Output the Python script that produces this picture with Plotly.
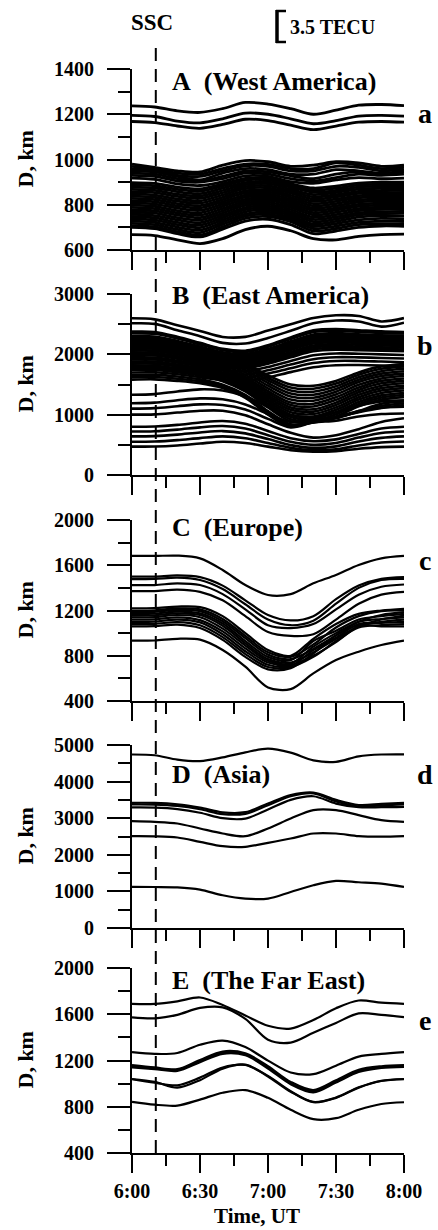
import plotly.graph_objects as go

# ---------------- data ----------------
MINUTES = [0, 10, 20, 30, 40, 50, 60, 70, 80, 90, 100, 110, 120]   # minutes after 6:00 UT
X_TICKS = [0, 30, 60, 90, 120]
X_TICK_TEXT = ["6:00", "6:30", "7:00", "7:30", "8:00"]
SSC_MINUTE = 10.5

A_LINES = [
    [1237, 1232, 1215, 1208, 1225, 1252, 1245, 1225, 1200, 1218, 1240, 1243, 1238],
    [1195, 1190, 1170, 1162, 1180, 1205, 1200, 1180, 1158, 1172, 1192, 1195, 1192],
    [1168, 1163, 1148, 1138, 1155, 1178, 1172, 1152, 1132, 1148, 1165, 1168, 1165],
    [980, 965, 950, 945, 975, 995, 990, 970, 975, 990, 985, 970, 975],
    [970, 958, 940, 935, 960, 980, 978, 960, 960, 985, 975, 960, 968],
    [960, 950, 930, 925, 950, 972, 970, 950, 950, 970, 965, 950, 958],
    [950, 945, 925, 910, 940, 960, 955, 935, 935, 955, 950, 940, 950],
    [940, 935, 915, 905, 925, 948, 945, 928, 915, 935, 945, 935, 945],
    [930, 925, 905, 900, 915, 940, 935, 915, 905, 920, 935, 930, 935],
    [918, 912, 892, 885, 902, 928, 925, 902, 895, 910, 920, 915, 918],
    [898, 894, 878, 870, 892, 916, 918, 893, 874, 882, 896, 900, 900],
    [888, 884, 868, 860, 883, 908, 910, 886, 865, 873, 887, 891, 891],
    [878, 874, 858, 849, 873, 898, 901, 878, 855, 863, 878, 882, 881],
    [868, 864, 847, 839, 863, 889, 893, 869, 845, 854, 869, 873, 872],
    [858, 854, 837, 828, 853, 880, 884, 860, 835, 844, 859, 863, 863],
    [848, 843, 826, 817, 843, 871, 875, 851, 825, 835, 850, 854, 853],
    [838, 833, 816, 807, 833, 861, 866, 842, 815, 825, 840, 845, 844],
    [828, 823, 805, 796, 823, 852, 857, 833, 805, 815, 831, 836, 835],
    [818, 813, 795, 786, 813, 843, 848, 824, 795, 805, 821, 826, 826],
    [808, 803, 785, 775, 803, 834, 839, 815, 785, 795, 812, 817, 817],
    [798, 793, 774, 764, 793, 824, 830, 806, 775, 785, 802, 807, 807],
    [788, 783, 764, 754, 783, 815, 821, 797, 765, 776, 793, 798, 798],
    [778, 773, 754, 743, 773, 806, 812, 788, 755, 766, 783, 789, 789],
    [768, 763, 743, 732, 763, 797, 803, 779, 745, 756, 774, 780, 780],
    [758, 752, 733, 721, 753, 787, 794, 770, 735, 746, 764, 770, 771],
    [748, 742, 722, 710, 743, 778, 785, 761, 725, 736, 755, 761, 762],
    [738, 732, 712, 699, 733, 769, 776, 752, 715, 726, 745, 752, 750],
    [728, 722, 701, 688, 723, 759, 767, 743, 705, 716, 733, 740, 738],
    [718, 712, 691, 677, 713, 750, 758, 734, 695, 706, 722, 728, 726],
    [708, 702, 681, 666, 702, 740, 748, 725, 684, 695, 712, 716, 714],
    [700, 694, 672, 658, 692, 728, 736, 712, 672, 684, 700, 706, 705],
    [668, 664, 645, 628, 650, 690, 705, 685, 650, 645, 660, 668, 670],
]

B_LINES = [
    [2597, 2580, 2483, 2387, 2288, 2290, 2394, 2499, 2602, 2647, 2636, 2545, 2600],
    [2514, 2505, 2400, 2300, 2190, 2180, 2270, 2390, 2514, 2560, 2545, 2460, 2525],
    [2376, 2370, 2290, 2190, 2090, 2060, 2150, 2280, 2400, 2420, 2400, 2380, 2370],
    [2360, 2355, 2275, 2178, 2080, 2050, 2138, 2268, 2386, 2406, 2386, 2366, 2358],
    [2345, 2340, 2262, 2165, 2068, 2038, 2125, 2255, 2372, 2392, 2372, 2352, 2345],
    [2300, 2296, 2222, 2128, 2034, 2004, 2090, 2216, 2330, 2352, 2334, 2316, 2310],
    [2275, 2270, 2198, 2106, 2014, 1984, 2070, 2194, 2308, 2330, 2312, 2295, 2290],
    [2250, 2246, 2175, 2085, 1995, 1965, 2050, 2172, 2285, 2306, 2290, 2274, 2270],
    [2220, 2216, 2148, 2060, 1972, 1942, 2026, 2146, 2258, 2280, 2264, 2250, 2245],
    [2190, 2186, 2120, 2035, 1950, 1920, 2002, 2120, 2230, 2252, 2238, 2224, 2220],
    [2160, 2157, 2092, 2010, 1928, 1898, 1978, 2095, 2204, 2226, 2213, 2200, 2195],
    [2130, 2127, 2065, 1985, 1905, 1875, 1955, 2070, 2178, 2200, 2188, 2176, 2170],
    [2095, 2093, 2032, 1955, 1878, 1850, 1928, 2040, 2146, 2170, 2160, 2148, 2140],
    [2060, 2058, 2000, 1925, 1850, 1822, 1900, 2010, 2115, 2140, 2130, 2118, 2110],
    [2025, 2023, 1968, 1895, 1822, 1796, 1872, 1980, 2082, 2108, 2100, 2090, 2080],
    [1990, 1988, 1935, 1865, 1795, 1770, 1845, 1950, 2050, 2078, 2070, 2060, 2050],
    [1920, 1918, 1870, 1805, 1740, 1718, 1790, 1890, 1985, 2015, 2010, 2000, 1990],
    [1850, 1850, 1805, 1745, 1685, 1665, 1735, 1830, 1920, 1952, 1950, 1940, 1930],
    [1780, 1780, 1740, 1685, 1630, 1612, 1680, 1770, 1855, 1890, 1890, 1880, 1870],
    [1700, 1702, 1670, 1620, 1570, 1555, 1620, 1705, 1785, 1820, 1822, 1815, 1800],
    [2280, 2275, 2200, 2100, 1990, 1850, 1650, 1500, 1480, 1560, 1700, 1800, 1840],
    [2240, 2236, 2165, 2070, 1960, 1815, 1610, 1450, 1430, 1515, 1660, 1760, 1800],
    [2200, 2196, 2130, 2040, 1930, 1780, 1570, 1400, 1380, 1470, 1620, 1720, 1760],
    [2150, 2146, 2088, 2002, 1895, 1740, 1525, 1350, 1330, 1425, 1580, 1680, 1720],
    [2110, 2106, 2045, 1965, 1860, 1700, 1480, 1300, 1280, 1380, 1540, 1640, 1680],
    [2065, 2062, 2003, 1928, 1825, 1660, 1435, 1250, 1230, 1335, 1495, 1600, 1640],
    [2020, 2018, 1960, 1890, 1790, 1620, 1390, 1200, 1180, 1290, 1450, 1560, 1600],
    [1985, 1983, 1928, 1860, 1760, 1590, 1355, 1160, 1135, 1245, 1410, 1520, 1560],
    [1950, 1948, 1895, 1830, 1730, 1560, 1320, 1120, 1090, 1200, 1370, 1480, 1520],
    [1915, 1914, 1864, 1800, 1700, 1530, 1285, 1080, 1050, 1160, 1330, 1440, 1480],
    [1880, 1880, 1832, 1770, 1670, 1500, 1250, 1040, 1010, 1120, 1290, 1400, 1440],
    [1845, 1845, 1800, 1740, 1640, 1470, 1215, 1000, 970, 1080, 1250, 1360, 1400],
    [1810, 1810, 1768, 1710, 1610, 1440, 1180, 960, 930, 1040, 1210, 1320, 1360],
    [1775, 1776, 1736, 1680, 1582, 1412, 1150, 925, 905, 1005, 1175, 1285, 1325],
    [1740, 1742, 1705, 1650, 1555, 1385, 1120, 890, 880, 970, 1140, 1250, 1290],
    [1660, 1663, 1632, 1585, 1495, 1330, 1060, 840, 870, 940, 1060, 1180, 1220],
    [1620, 1624, 1596, 1552, 1468, 1305, 1030, 820, 878, 950, 1050, 1145, 1190],
    [1580, 1585, 1560, 1520, 1440, 1280, 1000, 800, 885, 960, 1040, 1110, 1160],
    [1330, 1340, 1385, 1420, 1400, 1300, 1130, 990, 960, 1040, 1150, 1220, 1240],
    [1190, 1200, 1240, 1270, 1255, 1170, 1010, 880, 900, 960, 1060, 1115, 1130],
    [1100, 1108, 1140, 1170, 1160, 1085, 930, 790, 870, 900, 970, 1010, 1020],
    [1000, 1005, 1035, 1065, 1065, 990, 840, 700, 620, 660, 760, 880, 940],
    [800, 805, 830, 870, 895, 850, 730, 610, 560, 590, 680, 770, 800],
    [720, 725, 752, 790, 812, 770, 660, 550, 500, 530, 620, 695, 720],
    [640, 645, 670, 705, 728, 690, 595, 495, 450, 475, 555, 615, 640],
    [550, 555, 578, 612, 640, 610, 530, 450, 410, 425, 490, 538, 555],
    [470, 472, 490, 522, 552, 530, 470, 410, 385, 395, 435, 462, 470],
]

C_LINES = [
    [1682, 1682, 1685, 1661, 1558, 1425, 1337, 1345, 1440, 1514, 1602, 1661, 1682],
    [1499, 1500, 1510, 1495, 1420, 1290, 1160, 1112, 1150, 1300, 1420, 1480, 1495],
    [1478, 1480, 1490, 1470, 1390, 1255, 1120, 1070, 1110, 1260, 1400, 1470, 1480],
    [1425, 1425, 1440, 1425, 1345, 1210, 1070, 1045, 1080, 1210, 1340, 1410, 1430],
    [1372, 1372, 1385, 1365, 1290, 1150, 1010, 975, 990, 1120, 1260, 1340, 1365],
    [1220, 1222, 1235, 1230, 1150, 1000, 850, 800, 950, 1080, 1170, 1200, 1215],
    [1200, 1202, 1218, 1210, 1125, 975, 830, 790, 900, 1050, 1150, 1195, 1200],
    [1185, 1188, 1205, 1195, 1105, 955, 810, 770, 860, 980, 1100, 1160, 1185],
    [1170, 1172, 1190, 1175, 1085, 930, 790, 760, 930, 1020, 1120, 1150, 1170],
    [1155, 1158, 1175, 1160, 1065, 910, 770, 740, 830, 950, 1060, 1120, 1155],
    [1140, 1142, 1160, 1140, 1040, 890, 755, 730, 880, 1000, 1100, 1125, 1140],
    [1120, 1122, 1140, 1115, 1015, 865, 740, 720, 800, 920, 1060, 1100, 1120],
    [1100, 1102, 1120, 1095, 990, 840, 720, 710, 850, 960, 1080, 1090, 1100],
    [1080, 1082, 1098, 1070, 965, 815, 700, 700, 790, 930, 1050, 1070, 1080],
    [1060, 1062, 1075, 1045, 940, 790, 680, 690, 820, 980, 1070, 1060, 1060],
    [933, 935, 950, 942, 851, 703, 520, 505, 644, 762, 836, 895, 933],
]

D_LINES = [
    [4740, 4720, 4600, 4560, 4660, 4800, 4900, 4790, 4580, 4540, 4690, 4740, 4745],
    [3421, 3418, 3380, 3290, 3160, 3165, 3400, 3630, 3700, 3500, 3360, 3390, 3421],
    [3376, 3372, 3335, 3245, 3110, 3120, 3355, 3600, 3680, 3460, 3320, 3350, 3376],
    [3294, 3290, 3250, 3150, 3000, 2990, 3240, 3500, 3600, 3400, 3300, 3300, 3310],
    [2920, 2900, 2856, 2719, 2582, 2509, 2719, 2993, 3221, 3220, 3084, 2947, 2901],
    [2509, 2505, 2473, 2354, 2235, 2217, 2327, 2445, 2582, 2582, 2509, 2495, 2509],
    [1122, 1120, 1110, 1049, 894, 803, 803, 985, 1168, 1286, 1250, 1213, 1122],
]

E_LINES = [
    [1690, 1690, 1712, 1745, 1680, 1590, 1500, 1476, 1550, 1652, 1719, 1700, 1690],
    [1573, 1565, 1595, 1655, 1660, 1560, 1380, 1355, 1440, 1525, 1608, 1595, 1575],
    [1272, 1257, 1265, 1336, 1372, 1316, 1199, 1096, 1082, 1155, 1234, 1257, 1272],
    [1160, 1140, 1125, 1205, 1278, 1262, 1150, 1015, 945, 1030, 1120, 1150, 1160],
    [1150, 1132, 1118, 1195, 1268, 1252, 1140, 1005, 935, 1020, 1110, 1142, 1152],
    [1140, 1125, 1110, 1185, 1258, 1245, 1130, 995, 925, 1010, 1100, 1135, 1145],
    [1038, 1008, 985, 1052, 1140, 1161, 1067, 935, 839, 877, 965, 1023, 1038],
    [1040, 1015, 965, 1030, 1130, 1165, 1062, 930, 842, 880, 968, 1025, 1040],
    [842, 818, 810, 862, 921, 944, 877, 774, 693, 701, 774, 824, 839],
]

PANEL_LINES = [A_LINES, B_LINES, C_LINES, D_LINES, E_LINES]
PANEL_RANGES = [[600, 1400], [0, 3000], [400, 2000], [0, 5000], [400, 2000]]
PANEL_DTICK = [200, 1000, 400, 1000, 400]
PANEL_MINOR = [100, 500, 200, 500, 200]
PANEL_TITLES = ["A\u00a0 (West America)", "B\u00a0 (East America)", "C\u00a0 (Europe)",
                "D\u00a0 (Asia)", "E\u00a0 (The Far East)"]
PANEL_LETTERS = ["a", "b", "c", "d", "e"]

# ---------------- layout (pixel geometry) ----------------
W, H = 438, 1230
X_LEFT, X_RIGHT = 132, 404
PANEL_PIX = [(69, 250), (294, 475), (520, 701), (745, 928), (968, 1153)]
TITLE_Y = [81, 295, 527, 774, 980]
LETTER_Y = [114, 345, 560, 774, 1020]
LINE_W = [2.8, 2.6, 2.2, 2.2, 2.2]

def px(x):
    return x / W

def py(y):
    return 1 - y / H

FONT = "Liberation Serif"
fig = go.Figure()

for i, lines in enumerate(PANEL_LINES):
    n = i + 1
    xa = "x" if n == 1 else f"x{n}"
    ya = "y" if n == 1 else f"y{n}"
    for vals in lines:
        fig.add_trace(go.Scatter(
            x=MINUTES, y=vals, mode="lines", xaxis=xa, yaxis=ya,
            line=dict(color="black", width=LINE_W[i], shape="spline", smoothing=0.9),
            showlegend=False, hoverinfo="skip"))

    top, bot = PANEL_PIX[i]
    last = (n == 5)
    fig.layout[f"xaxis{'' if n == 1 else n}"] = dict(
        domain=[px(X_LEFT), px(X_RIGHT)], anchor=ya, range=[0, 120], automargin=False,
        tickmode="array", tickvals=X_TICKS, ticktext=X_TICK_TEXT,
        showticklabels=last, ticks="outside", ticklen=18, tickwidth=2, tickcolor="black",
        minor=dict(dtick=15, tick0=0, ticks="outside", ticklen=11, tickwidth=2, tickcolor="black"),
        showline=True, linecolor="black", linewidth=2, showgrid=False, zeroline=False,
        tickfont=dict(family=FONT, size=20, color="black", weight=700),
        ticklabelstandoff=1, fixedrange=True)
    fig.layout[f"yaxis{'' if n == 1 else n}"] = dict(
        domain=[py(bot), py(top)], anchor=xa, range=PANEL_RANGES[i], automargin=False,
        tick0=0, dtick=PANEL_DTICK[i], ticks="outside", ticklen=23, tickwidth=2, tickcolor="black",
        minor=dict(dtick=PANEL_MINOR[i], ticks="outside", ticklen=12, tickwidth=2, tickcolor="black"),
        showline=True, linecolor="black", linewidth=2, showgrid=False, zeroline=False,
        tickfont=dict(family=FONT, size=20, color="black", weight=700),
        ticklabelstandoff=9, fixedrange=True)

annotations = []
for i in range(5):
    top, bot = PANEL_PIX[i]
    annotations.append(dict(xref="paper", yref="paper", x=px(25), y=py((top + bot) / 2),
                            text="<b>D, km</b>", textangle=-90, showarrow=False,
                            font=dict(family=FONT, size=22, color="black"),
                            xanchor="center", yanchor="middle"))
    annotations.append(dict(xref="paper", yref="paper", x=px(170), y=py(TITLE_Y[i]),
                            text=f"<b>{PANEL_TITLES[i]}</b>", showarrow=False,
                            font=dict(family=FONT, size=26, color="black"),
                            xanchor="left", yanchor="middle"))
    annotations.append(dict(xref="paper", yref="paper", x=px(425), y=py(LETTER_Y[i]),
                            text=f"<b>{PANEL_LETTERS[i]}</b>", showarrow=False,
                            font=dict(family=FONT, size=28, color="black"),
                            xanchor="center", yanchor="middle"))

annotations.append(dict(xref="paper", yref="paper", x=px(257), y=py(1230),
                        text="<b>Time, UT</b>", showarrow=False,
                        font=dict(family=FONT, size=21, color="black"),
                        xanchor="center", yanchor="bottom"))
annotations.append(dict(xref="paper", yref="paper", x=px(152), y=py(23),
                        text="<b>SSC</b>", showarrow=False,
                        font=dict(family=FONT, size=23, color="black"),
                        xanchor="center", yanchor="middle"))
annotations.append(dict(xref="paper", yref="paper", x=px(288), y=py(27),
                        text="<b>3.5 TECU</b>", showarrow=False,
                        font=dict(family=FONT, size=20, color="black"),
                        xanchor="left", yanchor="middle"))

shapes = [
    dict(type="line", xref="x5", yref="paper", x0=SSC_MINUTE, x1=SSC_MINUTE,
         y0=py(1153), y1=py(40), line=dict(color="black", width=2, dash="13px,8px")),
    # TEC scale bracket
    dict(type="line", xref="paper", yref="paper", x0=px(277), x1=px(277), y0=py(10), y1=py(43),
         line=dict(color="black", width=3.5)),
    dict(type="line", xref="paper", yref="paper", x0=px(276), x1=px(286), y0=py(11), y1=py(11),
         line=dict(color="black", width=2.5)),
    dict(type="line", xref="paper", yref="paper", x0=px(276), x1=px(286), y0=py(42), y1=py(42),
         line=dict(color="black", width=2.5)),
]

fig.update_layout(width=W, height=H, margin=dict(l=0, r=0, t=0, b=0, autoexpand=False),
                  paper_bgcolor="white", plot_bgcolor="white",
                  annotations=annotations, shapes=shapes, showlegend=False)

fig.write_html("out.html", config={"displayModeBar": False, "staticPlot": True},
               post_script="document.body.style.margin='0';document.body.style.overflow='hidden';")
